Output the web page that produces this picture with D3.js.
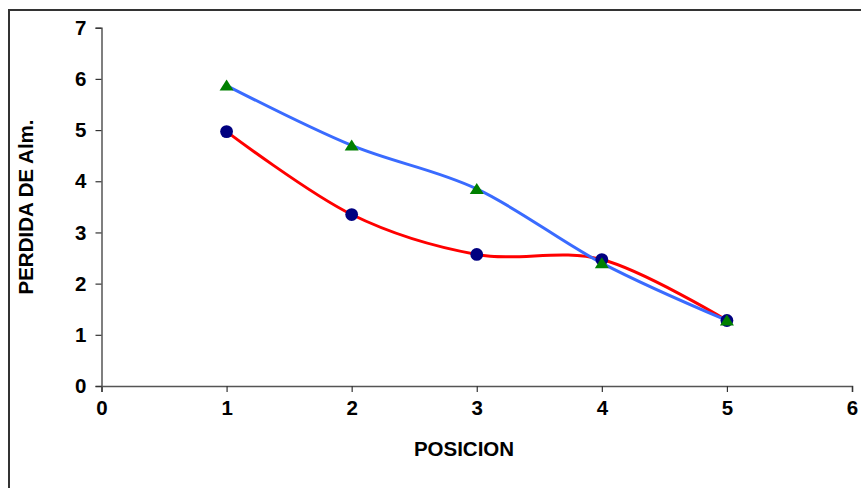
<!DOCTYPE html>
<html><head><meta charset="utf-8">
<script src="https://cdn.jsdelivr.net/npm/d3@7"></script>
<style>
html,body{margin:0;padding:0;background:#fff;overflow:hidden}
text{font-family:"Liberation Sans",Arial,sans-serif;font-weight:bold;fill:#000}
</style></head>
<body>
<svg id="c" width="861" height="488"></svg>
<script>
const posiciones = [1, 2, 3, 4, 5];
const serieCirculos = [4.97, 3.35, 2.57, 2.47, 1.28];
const serieTriangulos = [5.87, 4.70, 3.85, 2.40, 1.28];
const xTicks = [0, 1, 2, 3, 4, 5, 6];
const yTicks = [0, 1, 2, 3, 4, 5, 6, 7];
const xTitle = "POSICION";
const yTitle = "PERDIDA DE Alm.";

const svg = d3.select("#c");
svg.append("rect").attr("x", 9).attr("y", 10).attr("width", 1000).attr("height", 1000)
  .attr("fill", "#fff").attr("stroke", "#333").attr("stroke-width", 2);

const x = d3.scaleLinear().domain([0, 6]).range([101.5, 852]);
const y = d3.scaleLinear().domain([0, 7]).range([386, 27.7]);

const xAxis = svg.append("g").attr("transform", `translate(0,${y(0)})`)
  .call(d3.axisBottom(x).tickValues(xTicks).tickFormat(d3.format("d")).tickSizeOuter(0).tickSize(6).tickPadding(8));
const yAxis = svg.append("g").attr("transform", `translate(${x(0)},0)`)
  .call(d3.axisLeft(y).tickValues(yTicks).tickFormat(d3.format("d")).tickSizeOuter(0).tickSize(6).tickPadding(9));
[xAxis, yAxis].forEach(g => {
  g.select(".domain").attr("stroke", "#555").attr("stroke-width", 1.5);
  g.selectAll(".tick line").attr("stroke", "#333").attr("stroke-width", 1.2);
  g.selectAll(".tick text").style("font-size", "20.5px").style("font-family", "'Liberation Sans',Arial,sans-serif").style("font-weight", "bold").attr("fill", "#000");
});

svg.append("text").attr("x", 464).attr("y", 456).attr("text-anchor", "middle")
  .style("font-size", "20.5px").text(xTitle);
svg.append("text").attr("transform", "translate(33,207) rotate(-90)").attr("text-anchor", "middle")
  .style("font-size", "20.5px").text(yTitle);

const line = d3.line().x(d => x(d[0])).y(d => y(d[1])).curve(d3.curveCardinal.tension(0));
const circData = posiciones.map((p, i) => [p, serieCirculos[i]]);
const triData = posiciones.map((p, i) => [p, serieTriangulos[i]]);

svg.append("path").datum(circData).attr("d", line).attr("fill", "none")
  .attr("stroke", "#ff0000").attr("stroke-width", 3);
svg.append("path").datum(triData).attr("d", line).attr("fill", "none")
  .attr("stroke", "#3a6bff").attr("stroke-width", 3);

svg.selectAll("circle.m").data(circData).enter().append("circle").attr("class", "m")
  .attr("cx", d => x(d[0])).attr("cy", d => y(d[1])).attr("r", 6.4).attr("fill", "#000080");
svg.selectAll("path.t").data(triData).enter().append("path").attr("class", "t")
  .attr("d", "M0,-6L7,5L-7,5Z").attr("transform", d => `translate(${x(d[0])},${y(d[1])})`).attr("fill", "#008000");
</script>
</body></html>
